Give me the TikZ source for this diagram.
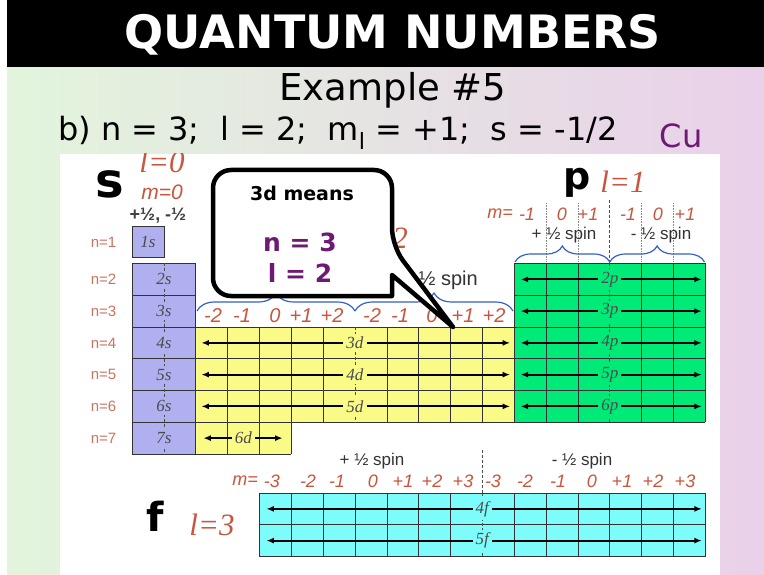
\documentclass[tikz,border=0pt]{standalone}
\usepackage{fontspec}
\setmainfont{DejaVu Sans}
\newfontfamily\arialf{Liberation Sans}
\newfontfamily\timesf{Liberation Serif}
\usetikzlibrary{arrows.meta, decorations.pathreplacing}
\definecolor{sfill}{RGB}{176,176,240}
\definecolor{dfill}{RGB}{250,250,135}
\definecolor{pfill}{RGB}{0,234,120}
\definecolor{ffill}{RGB}{125,252,252}
\definecolor{qred}{RGB}{200,85,60}
\definecolor{nred}{RGB}{205,115,95}
\definecolor{qblue}{RGB}{55,95,200}
\definecolor{qpurple}{RGB}{110,25,115}
\definecolor{bgL}{RGB}{226,245,220}
\definecolor{bgR}{RGB}{234,208,234}
\tikzset{every node/.append style={inner sep=0pt}}

\begin{document}
\begin{tikzpicture}[x=1pt, y=-1pt,
    cell/.style={draw=black!80, line width=0.6pt},
    cline/.style={black!70, line width=0.6pt, dash pattern=on 3pt off 2pt},
    mdiv/.style={black!45, densely dotted, line width=0.6pt},
    a/.style={-{Latex[length=7.5pt,width=6pt]}, line width=1.8pt},
    olab/.style={font=\timesf\itshape\fontsize{17}{17}\selectfont, text=black!70, inner sep=3pt},
    nlab/.style={font=\arialf\fontsize{15}{15}\selectfont, text=nred},
    mval/.style={font=\arialf\itshape\fontsize{#1}{#1}\selectfont, text=qred},
    lval/.style={font=\timesf\itshape\fontsize{31}{31}\selectfont, text=qred},
    spin/.style={font=\arialf\fontsize{#1}{#1}\selectfont, text=black!80},
    brc/.style={decorate, decoration={brace, amplitude=#1}, qblue, line width=1.2pt},
    big/.style={font=\bfseries\fontsize{#1}{#1}\selectfont},
    callout/.style={draw=black, fill=white, line width=4.5pt, line join=round},
    says/.style={font=\bfseries\fontsize{#1}{#1}\selectfont}
]
\useasboundingbox (0,0) rectangle (764,575);
% slide background and title
\fill[white] (0,0) rectangle (764,575);
\shade[left color=bgL, right color=bgR] (7,67) rectangle (764,575);
\fill[black] (7,0) rectangle (764,67);
\node[big=46, text=white] (title) at (393,35) {QUANTUM NUMBERS};
\node[font=\fontsize{37}{37}\selectfont] (ex) at (393,90) {Example \#5};
\node[font=\fontsize{32}{32}\selectfont, anchor=west] (given) at (58,133)
    {b) n = 3;~~l = 2;~~m\textsubscript{l} = +1;~~s = -1/2};
\node[font=\fontsize{32}{32}\selectfont, text=qpurple] (elem) at (681,136) {Cu};

% table picture
\fill[white] (60,154) rectangle (720,575);
\begin{scope}
\clip (60,154) rectangle (720,575);

% s block
\begin{scope}[shift={(132,226)}, x=31.85pt, y=-31.75pt]
\draw[cell, fill=sfill] (0,0) rectangle (1,1);
\node[olab] (s1) at (0.5,0.5) {1s};
\end{scope}
\begin{scope}[shift={(132,263.5)}, x=31.85pt, y=-31.75pt]
\draw[cell, fill=sfill] (0,0) rectangle (2,6);
\foreach \j in {1,...,5} \draw[cell] (0,\j) -- (2,\j);
\draw[cline] (1,0) -- (1,6);
\foreach \n [count=\j from 0] in {2,...,7}
    \node[olab, fill=sfill] (s\n) at (1,\j+0.5) {\n s};
\end{scope}

% d block
\begin{scope}[shift={(195.7,327)}, x=31.85pt, y=-31.75pt]
\fill[dfill] (0,0) rectangle (10,3);
\fill[dfill] (0,3) rectangle (3,4);
\foreach \i in {0,1,2,3,4,6,7,8,9,10} \draw[cell] (\i,0) -- (\i,3);
\foreach \j in {0,...,3} \draw[cell] (0,\j) -- (10,\j);
\foreach \i in {0,...,3} \draw[cell] (\i,3) -- (\i,4);
\draw[cell] (0,4) -- (3,4);
\draw[cline] (5,0) -- (5,3);
\foreach \n [count=\j from 0] in {3,4,5} {
    \coordinate (d\n L) at (0.18,\j+0.5);
    \coordinate (d\n R) at (9.87,\j+0.5);
    \node[olab, fill=dfill] (d\n) at (5,\j+0.5) {\n d};
    \draw[a] (d\n) -- (d\n L);
    \draw[a] (d\n) -- (d\n R);
}
\coordinate (d6L) at (0.24,3.5);
\coordinate (d6R) at (2.73,3.5);
\node[olab, fill=dfill] (d6) at (1.5,3.5) {6d};
\draw[a] (d6) -- (d6L);
\draw[a] (d6) -- (d6R);
\end{scope}

% p block
\begin{scope}[shift={(514.2,263.5)}, x=31.85pt, y=-31.75pt]
\fill[pfill] (0,0) rectangle (6,5);
\foreach \i in {0,1,2,4,5,6} \draw[cell] (\i,0) -- (\i,5);
\foreach \j in {0,...,5} \draw[cell] (0,\j) -- (6,\j);
\draw[cline] (3,0) -- (3,5);
\foreach \n [count=\j from 0] in {2,...,6} {
    \coordinate (p\n L) at (0.2,\j+0.5);
    \coordinate (p\n R) at (5.89,\j+0.5);
    \node[olab, fill=pfill] (p\n) at (3,\j+0.5) {\n p};
    \draw[a] (p\n) -- (p\n L);
    \draw[a] (p\n) -- (p\n R);
}
\end{scope}

% f block
\begin{scope}[shift={(259.4,493)}, x=31.85pt, y=-31.75pt]
\fill[ffill] (0,0) rectangle (14,2);
\foreach \i in {0,...,6,8,9,...,14} \draw[cell] (\i,0) -- (\i,2);
\foreach \j in {0,1,2} \draw[cell] (0,\j) -- (14,\j);
\draw[cline] (7,0) -- (7,2);
\foreach \n [count=\j from 0] in {4,5} {
    \coordinate (f\n L) at (0.22,\j+0.5);
    \coordinate (f\n R) at (13.89,\j+0.5);
    \node[olab, fill=ffill] (f\n) at (7,\j+0.5) {\n f};
    \draw[a] (f\n) -- (f\n L);
    \draw[a] (f\n) -- (f\n R);
}
\end{scope}

% s labels
\node[big=48, anchor=base] (sbig) at (110,198) {s};
\node[lval, anchor=base] (l0) at (162,173) {l=0};
\node[mval=21, anchor=base] (m0) at (162,200) {m=0};
\node[font=\arialf\bfseries\fontsize{18}{18}\selectfont, text=black!75, anchor=base] (spin0) at (158,221) {+½, -½};
\foreach \n/\y in {1/241.9, 2/279.4, 3/311.1, 4/342.9, 5/374.6, 6/406.4, 7/438.1}
    \node[nlab] (n\n) at (103.5,\y) {n=\n};

% d labels
\node[lval, anchor=base east] (l2) at (408,249) {l=2};
\node[spin=20, anchor=east] (dminus) at (478,280) {- ½ spin};
\draw[brc=18pt] (197,311) -- (355,311);
\draw[brc=18pt] (355,311) -- (513,311);
\foreach \v/\x [count=\k] in {-2/213,-1/242,0/275,+1/301,+2/332,-2/372,-1/400,0/432,+1/463,+2/494}
    \node[mval=20] (dm\k) at (\x,315.5) {\v};

% p labels
\node[big=38, anchor=base] (pbig) at (577,190) {p};
\node[lval, anchor=base] (l1) at (623,193) {l=1};
\node[mval=18, anchor=east] (pm) at (513,214) {m=};
\foreach \v/\x [count=\k] in {-1/527,0/562,+1/588,-1/628,0/658,+1/685}
    \node[mval=18] (pm\k) at (\x,214) {\v};
\foreach \i in {1,2,4,5} \draw[mdiv] ({514.2+\i*31.85},203) -- ({514.2+\i*31.85},262);
\draw[cline] (609.75,200) -- (609.75,263.5);
\node[spin=17] (pplus) at (564,235) {+ ½ spin};
\node[spin=17] (pminus) at (661,235) {- ½ spin};
\draw[brc=16pt] (515,262) -- (609.75,262);
\draw[brc=16pt] (609.75,262) -- (704.5,262);

% f labels
\node[big=40, anchor=base] (fbig) at (155,531) {f};
\node[lval, anchor=base] (l3) at (212,535) {l=3};
\node[spin=17] (fplus) at (372,461) {+ ½ spin};
\node[spin=17] (fminus) at (582,461) {- ½ spin};
\node[mval=18, anchor=east] (fm) at (258,481) {m=};
\foreach \v/\x [count=\k] in {-3/272,-2/308,-1/337,0/373,+1/403,+2/432,+3/463,-3/493,-2/525,-1/558,0/592,+1/622,+2/653,+3/685}
    \node[mval=18] (fm\k) at (\x,481) {\v};
\draw[cline] (482.35,450) -- (482.35,493);
\end{scope}

% speech bubble
\draw[callout] (453,327) -- (392,275) -- (392,296) [rounded corners=18pt] -- (213,296)
    -- (213,170) -- (392,170) -- (392,246) [sharp corners] -- cycle;
\node[says=19] (means) at (302,193) {3d means};
\node[says=25, text=qpurple] (nval) at (300,242) {n = 3};
\node[says=25, text=qpurple] (lval2) at (300,273) {l = 2};
\end{tikzpicture}
\end{document}
